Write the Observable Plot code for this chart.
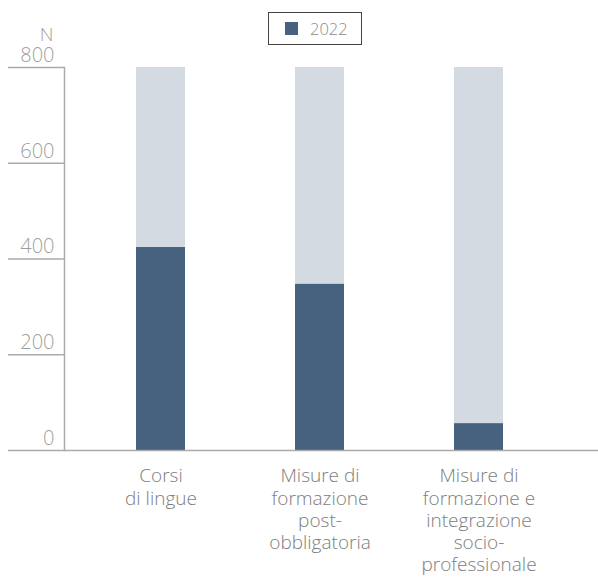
<!DOCTYPE html>
<html>
<head>
<meta charset="utf-8">
<script src="https://cdn.jsdelivr.net/npm/d3@7"></script>
<script src="https://cdn.jsdelivr.net/npm/@observablehq/plot@0.6"></script>
<style>
  html, body { margin: 0; padding: 0; background: #fff; }
  #wrap { position: relative; width: 598px; height: 578px; font-family: "Open Sans", sans-serif; font-weight: 300; }
  #legend { position: absolute; left: 268px; top: 12px; width: 92px; height: 31px; border: 1.5px solid #444;
            box-sizing: content-box; display: flex; align-items: center; color: #8a8a8a; font-size: 16.5px; }
  #legend .sw { width: 13px; height: 13px; background: #46627f; margin-left: 16px; margin-right: 12px; }
  svg { position: absolute; left: 0; top: 0; }
</style>
</head>
<body>
<div id="wrap">
  <div id="legend"><span class="sw"></span><span id="legtxt"></span></div>
</div>
<script>
const categories = ["Corsi di lingue", "Misure di formazione post-obbligatoria", "Misure di formazione e integrazione socio-professionale"];
const categoryLabels = ["Corsi\ndi lingue", "Misure di\nformazione\npost-\nobbligatoria", "Misure di\nformazione e\nintegrazione\nsocio-\nprofessionale"];
const values2022 = [424, 347, 56];
const seriesName = "2022";
const yTicks = [0, 200, 400, 600, 800];
const yMax = 800;
const yUnit = "N";

const data = categories.map((c, i) => ({category: c, value: values2022[i]}));
const labelOf = new Map(categories.map((c, i) => [c, categoryLabels[i]]));

document.getElementById("legtxt").textContent = seriesName;

const chart = Plot.plot({
  width: 598,
  height: 578,
  marginLeft: 64,
  marginRight: 0,
  marginTop: 67,
  marginBottom: 128,
  style: {fontFamily: "'Open Sans', sans-serif", fontWeight: 300, background: "transparent"},
  x: {domain: categories, paddingInner: 0.69, paddingOuter: 0.345, align: 0.5, insetLeft: 17, insetRight: 39, label: null},
  y: {domain: [0, yMax], label: null},
  marks: [
    Plot.barY(categories, {x: d => d, y: () => yMax, fill: "#d3dae2"}),
    Plot.barY(data, {x: "category", y: "value", fill: "#46627f"}),
    Plot.ruleY([0], {stroke: "#aaa", strokeWidth: 1.5}),
    Plot.frame({anchor: "left", stroke: "#aaa", strokeWidth: 1.5, strokeOpacity: 1}),
    Plot.axisY({ticks: yTicks, tickSize: 56, tickFormat: () => null,
                stroke: "#aaa", strokeWidth: 1.5, strokeOpacity: 1, label: null}),
    Plot.axisY({ticks: yTicks, tickSize: 0, tickPadding: 10, dy: -12, textAnchor: "end",
                fill: "#9f9f9f", fontSize: 20, label: null}),
    Plot.axisX({tickSize: 0, tickPadding: 16, tickFormat: d => labelOf.get(d), fontSize: 19,
                lineHeight: 1.17, fill: "#7d7d7d", label: null, lineAnchor: "top"}),
    Plot.text([yUnit], {frameAnchor: "top-left", dx: -11, dy: -40, textAnchor: "end", fill: "#9f9f9f", fontSize: 19})
  ]
});
document.getElementById("wrap").appendChild(chart);
</script>
</body>
</html>
